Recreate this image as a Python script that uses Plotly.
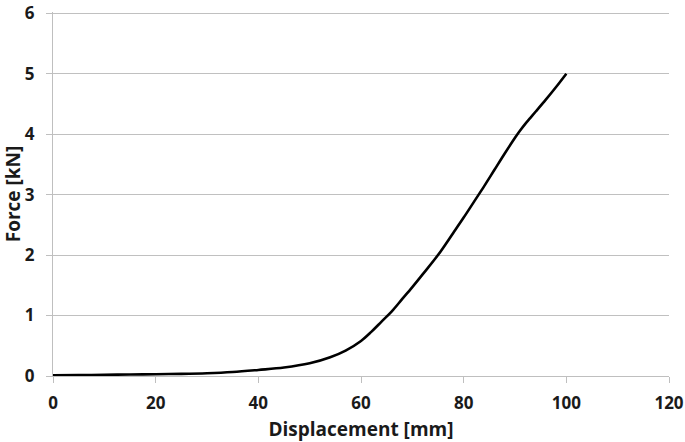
import plotly.graph_objects as go

displacement = [0, 5, 10, 15, 20, 25, 30, 35, 40, 45, 50, 54, 57, 60, 62, 64, 66, 68, 70, 72,
                75, 78, 80, 82, 84, 86, 88, 90, 91, 92, 93, 94, 96, 98, 100]
force = [0.01, 0.015, 0.02, 0.025, 0.03, 0.035, 0.045, 0.065, 0.1, 0.14, 0.21, 0.31, 0.42, 0.58,
         0.73, 0.9, 1.07, 1.27, 1.47, 1.68, 2.0, 2.37, 2.62, 2.88, 3.14, 3.41, 3.68, 3.94, 4.06,
         4.17, 4.27, 4.37, 4.57, 4.78, 5.0]
x_ticks = [0, 20, 40, 60, 80, 100, 120]
y_ticks = [0, 1, 2, 3, 4, 5, 6]

fig = go.Figure()
fig.add_trace(go.Scatter(x=displacement, y=force, mode="lines",
                         line=dict(color="black", width=2.6, shape="spline"),
                         showlegend=False))

font_family = "Open Sans"
txt = "#1a1a1a"
fig.update_layout(
    width=685, height=442,
    margin=dict(l=53, r=16, t=12, b=66),
    paper_bgcolor="white", plot_bgcolor="white",
    font=dict(family=font_family, color=txt),
)
fig.update_xaxes(
    range=[0, 120], tickvals=x_ticks, ticktext=[str(v) for v in x_ticks],
    showgrid=False, zeroline=False, automargin=False,
    showline=True, linecolor="#bfbfbf", linewidth=1,
    ticks="outside", ticklen=6, tickcolor="#bfbfbf",
    ticklabelstandoff=6, ticklabeloverflow="allow",
    tickfont=dict(size=17, family=font_family, weight="bold", color=txt),
    title=dict(text="Displacement [mm]", standoff=9,
               font=dict(size=19, family=font_family, weight="bold", color=txt)),
)
fig.update_yaxes(
    range=[0, 6.02], tickvals=y_ticks, ticktext=[str(v) for v in y_ticks],
    showgrid=True, gridcolor="#c0c0c0", gridwidth=1, zeroline=False, automargin=False,
    showline=True, linecolor="#bfbfbf", linewidth=1,
    ticks="outside", ticklen=6, tickcolor="#bfbfbf",
    ticklabelstandoff=8, ticklabeloverflow="allow",
    tickfont=dict(size=17, family=font_family, weight="bold", color=txt),
    title=dict(text="Force [kN]", standoff=6,
               font=dict(size=19, family=font_family, weight="bold", color=txt)),
)

fig.write_html("out.html", config={"displayModeBar": False},
               post_script="document.body.style.margin='0';document.body.style.overflow='hidden';")
